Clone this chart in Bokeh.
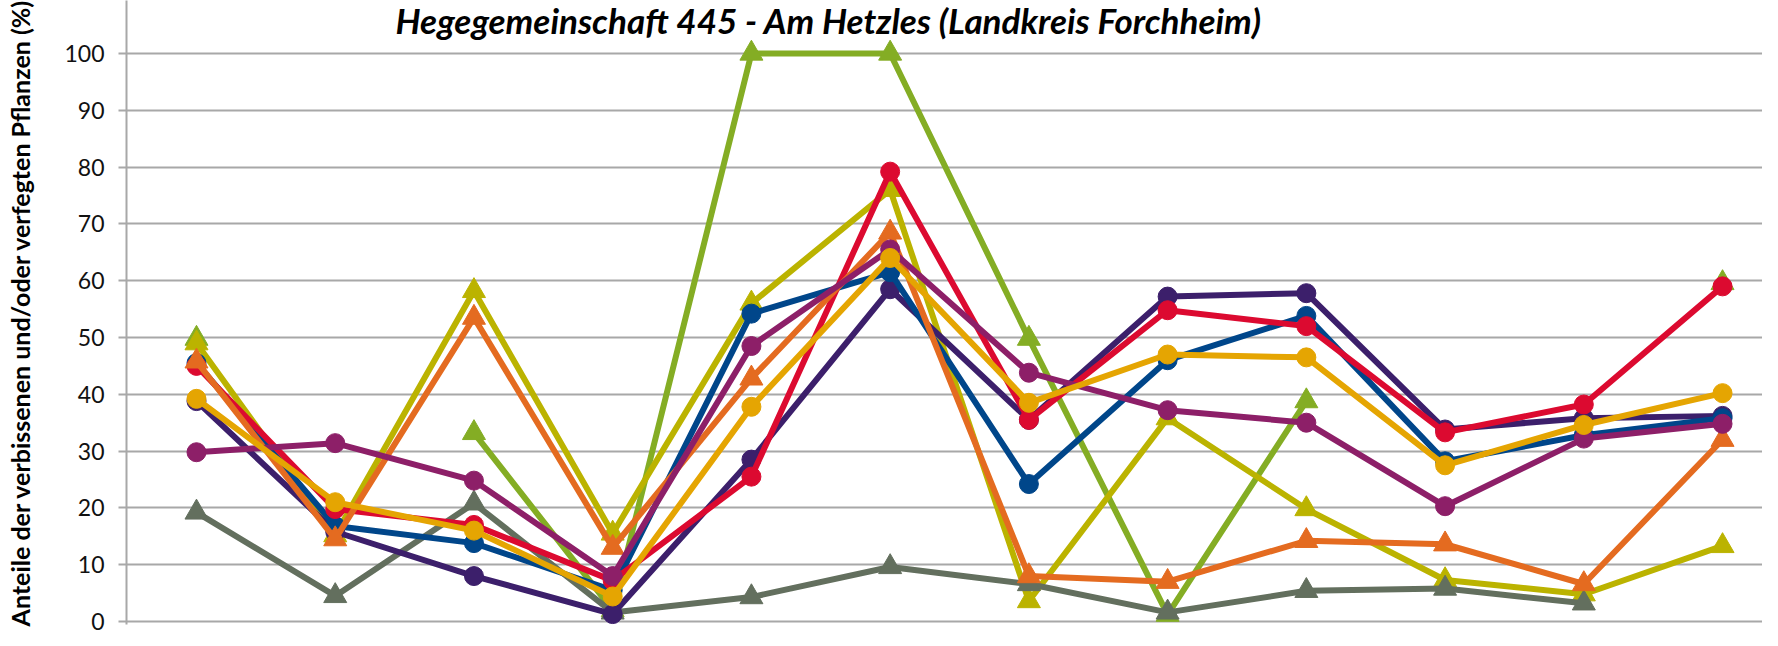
import math
from bokeh.plotting import figure
from bokeh.models import Range1d, FixedTicker, Label
from bokeh.embed import file_html
from bokeh.resources import INLINE

nan = float("nan")

# category positions (labels not visible in the reference crop)
category_index = [1, 2, 3, 4, 5, 6, 7, 8, 9, 10, 11, 12]

series_blue = [45.5, 16.8, 13.8, 5.5, 54.2, 61.5, 24.2, 46.0, 53.8, 28.2, 32.8, 35.8]
series_darkpurple = [38.8, 15.8, 8.0, 1.3, 28.5, 58.5, 35.5, 57.2, 57.8, 33.8, 35.8, 36.2]
series_red = [45.0, 19.8, 17.0, 7.2, 25.5, 79.2, 35.5, 54.8, 52.0, 33.3, 38.2, 59.0]
series_magenta = [29.8, 31.4, 24.8, 8.0, 48.5, 65.5, 43.8, 37.2, 35.0, 20.3, 32.2, 34.8]
series_gold = [39.2, 21.0, 16.0, 4.4, 37.8, 64.0, 38.5, 47.0, 46.5, 27.5, 34.6, 40.2]
series_olive = [49.0, 15.2, 58.2, 15.5, 56.0, 76.0, 3.6, 35.8, 19.8, 7.3, 4.8, 13.3]
series_orange = [45.8, 14.5, 53.5, 13.0, 42.8, 68.5, 8.0, 7.0, 14.2, 13.6, 6.6, 32.0]
series_green = [49.8, nan, 33.2, 2.0, 100.0, 100.0, 49.8, 1.2, 38.8, nan, nan, 59.6]
series_gray = [19.2, 4.5, 20.8, 1.6, 4.3, 9.6, 6.6, 1.6, 5.4, 5.8, 3.2, nan]

y_ticks = [0, 10, 20, 30, 40, 50, 60, 70, 80, 90, 100]

title_text = "Hegegemeinschaft 445 - Am Hetzles (Landkreis Forchheim)"
y_label_text = "Anteile der verbissenen und/oder verfegten Pflanzen (%)"

# drawing order: bottom -> top
layers = [
    (series_green, "#84ad24", "triangle"),
    (series_olive, "#bbb300", "triangle"),
    (series_gray, "#636f5e", "triangle"),
    (series_darkpurple, "#3c1f6b", "circle"),
    (series_blue, "#00468a", "circle"),
    (series_red, "#dc0a30", "circle"),
    (series_orange, "#e46b20", "triangle"),
    (series_magenta, "#8d1f68", "circle"),
    (series_gold, "#e5a502", "circle"),
]

p = figure(
    width=1762, height=638,
    x_range=Range1d(0.4955, 12.288), y_range=Range1d(-0.53, 109.33),
    output_backend="svg", toolbar_location=None,
    min_border_left=126, min_border_right=0, min_border_top=0, min_border_bottom=14,
)
p.outline_line_color = None
p.background_fill_color = "white"
p.border_fill_color = "white"

p.xaxis.visible = False
p.xgrid.visible = False
p.ygrid.ticker = FixedTicker(ticks=y_ticks)
p.ygrid.grid_line_color = "#a8a8a8"
p.ygrid.grid_line_width = 2

p.yaxis.ticker = FixedTicker(ticks=y_ticks)
p.yaxis.major_label_text_font = "Lato"
p.yaxis.major_label_text_font_size = "23px"
p.yaxis.major_label_text_color = "#111111"
p.yaxis.major_label_standoff = 14
p.yaxis.major_tick_out = 8
p.yaxis.major_tick_in = 0
p.yaxis.minor_tick_line_color = None
p.yaxis.major_tick_line_color = "#a8a8a8"
p.yaxis.major_tick_line_width = 2
p.yaxis.axis_line_color = "#a8a8a8"
p.yaxis.axis_line_width = 2

p.yaxis.axis_label = y_label_text
p.yaxis.axis_label_text_font = "Lato"
p.yaxis.axis_label_text_font_size = "25px"
p.yaxis.axis_label_text_font_style = "bold"
p.yaxis.axis_label_text_color = "#000000"
p.yaxis.axis_label_standoff = 26

title = Label(x=269, y=605, x_units="screen", y_units="screen", text=title_text,
              text_font="Lato", text_font_style="bold italic", text_font_size="35px",
              text_color="#000000", text_baseline="alphabetic", text_align="left")
p.add_layout(title)

for vals, color, marker in layers:
    p.line(category_index, vals, line_color=color, line_width=6)
    xs = [x for x, v in zip(category_index, vals) if not math.isnan(v)]
    ys = [v for v in vals if not math.isnan(v)]
    size = 23 if marker == "triangle" else 19
    p.scatter(xs, ys, marker=marker, size=size, fill_color=color, line_color=color)

open("out.html", "w").write(file_html(p, INLINE))
